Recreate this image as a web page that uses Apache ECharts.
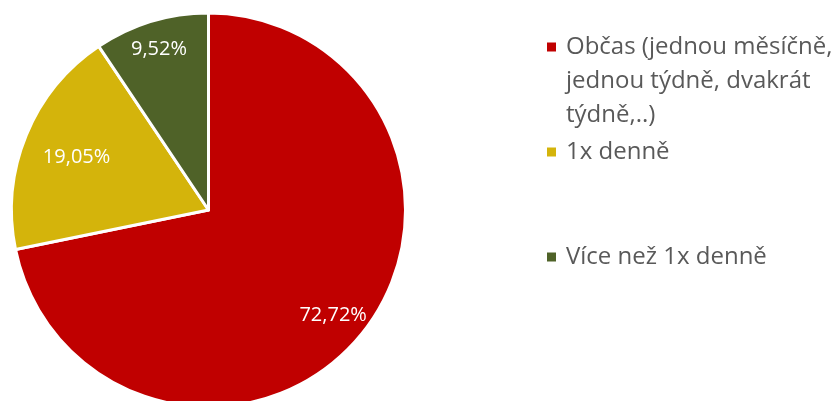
<!DOCTYPE html>
<html>
<head>
<meta charset="utf-8">
<script src="https://cdn.jsdelivr.net/npm/echarts@6/dist/echarts.min.js"></script>
<style>
  html, body { margin: 0; padding: 0; background: #fff; }
  #chart { width: 839px; height: 401px; }
</style>
</head>
<body>
<div id="chart"></div>
<script>
// Frequency categories and their shares (%)
const categories = [
  'Občas (jednou měsíčně, jednou týdně, dvakrát týdně,..)',
  '1x denně',
  'Více než 1x denně'
];
const shares = [72.72, 19.05, 9.52];
const colors = ['#C00000', '#D4B40B', '#4F6228'];

// Wrapped legend text for the long category; two leading blank lines keep
// the first text line level with the legend square (text is centred on it)
const legendLines = {
  [categories[0]]: '\n\nObčas (jednou měsíčně,\njednou týdně, dvakrát\ntýdně,..)'
};

// Per-slice label nudges so the percentages sit near the rim
const labelOffsets = [[46, 41], [-38, -14], [-20, -64]];

const font = '"Open Sans", "Noto Sans", sans-serif';

const chart = echarts.init(document.getElementById('chart'), null, { renderer: 'canvas' });

function legendFor(i, top) {
  return {
    data: [categories[i]],
    left: 545,
    top: top,
    orient: 'vertical',
    padding: 0,
    icon: 'rect',
    itemWidth: 11,
    itemHeight: 11,
    itemGap: 0,
    selectedMode: false,
    formatter: name => legendLines[name] || name,
    textStyle: {
      fontFamily: font,
      fontSize: 24,
      lineHeight: 34,
      color: '#595959',
      padding: [0, 0, 0, 4]
    }
  };
}

chart.setOption({
  backgroundColor: '#ffffff',
  animation: false,
  color: colors,
  legend: [
    legendFor(0, -38),
    legendFor(1, 135),
    legendFor(2, 240)
  ],
  series: [{
    type: 'pie',
    center: [208.5, 210],
    radius: 197,
    startAngle: 90,
    clockwise: true,
    avoidLabelOverlap: false,
    itemStyle: { borderColor: '#ffffff', borderWidth: 3 },
    label: {
      show: true,
      position: 'inside',
      color: '#ffffff',
      fontFamily: font,
      fontSize: 20,
      formatter: p => p.value.toFixed(2).replace('.', ',') + '%'
    },
    labelLine: { show: false },
    emphasis: { disabled: true },
    data: categories.map((name, i) => ({
      name: name,
      value: shares[i],
      itemStyle: { color: colors[i] },
      label: { offset: labelOffsets[i] }
    }))
  }]
});
</script>
</body>
</html>
